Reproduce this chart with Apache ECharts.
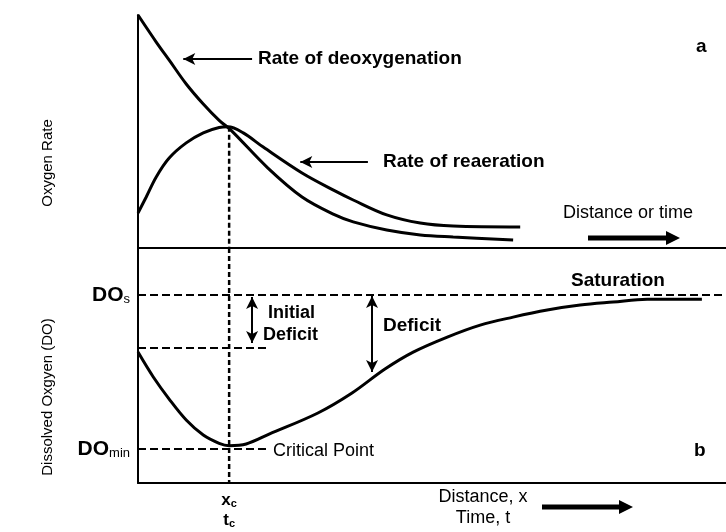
<!DOCTYPE html>
<html>
<head>
<meta charset="utf-8">
<script src="https://cdn.jsdelivr.net/npm/echarts@6/dist/echarts.min.js"></script>
<style>
  html, body { margin: 0; padding: 0; background: #fff; }
  #chart { width: 726px; height: 532px; }
</style>
</head>
<body>
<div id="chart"></div>
<script>
// panel a: oxygen rates along distance (x 0..100, y 0..100)
const deoxRate = [[0,100],[3.1,88.4],[5.4,80.3],[8.2,70.4],[11.1,61.8],[13.8,54.8],[15.8,50.6],[22.1,34.3],[27.9,21.9],[33.5,14.2],[36.6,11.2],[42.3,7.7],[48.0,5.6],[53.6,4.7],[63.8,3.4]];
const reaerRate = [[0,15.0],[1.4,21.9],[3.1,30.5],[5.3,38.6],[8.2,45.1],[11.1,49.4],[13.8,51.7],[15.3,52.0],[17.9,49.4],[21.3,43.3],[27.9,32.2],[33.5,24.5],[36.6,20.6],[42.3,14.2],[48.0,10.7],[53.6,9.4],[65.0,9.0]];
// panel b: dissolved oxygen sag curve
const doCurve = [[0,55.7],[2.6,45.1],[5.3,35.7],[8.2,26.8],[11.1,20.4],[13.8,16.9],[15.5,15.9],[18.4,16.6],[22.3,20.8],[30.6,29.8],[36.4,38.3],[42.0,48.5],[46.8,55.7],[52.6,62.1],[58.2,67.2],[63.8,70.6],[69.6,73.6],[75.2,75.7],[80.8,77.0],[86.6,78.2],[95.9,78.2]];
const xCrit = 15.5;
const doSat = 80;
const doInit = 57.4;
const doMin = 14.5;
const critPeak = 52;

const font = "'Liberation Sans', Arial, sans-serif";
const ink = '#000';

const chart = echarts.init(document.getElementById('chart'));

const hiddenAxis = {
  type: 'value', min: 0, max: 100,
  axisTick: { show: false }, axisLabel: { show: false }, splitLine: { show: false }
};
const solidAxisLine = { show: true, lineStyle: { color: ink, width: 2 } };

function arrow(from, to, both) {
  return [
    { coord: from, symbol: both ? 'arrow' : 'none' },
    { coord: to, symbol: 'arrow' }
  ];
}

function txt(text, x, y, opts) {
  return {
    type: 'text', x: x, y: y, rotation: (opts && opts.rotation) || 0, silent: true,
    style: {
      text: text, fill: ink,
      font: ((opts && opts.weight) || 'normal') + ' ' + ((opts && opts.size) || 18) + 'px ' + font,
      textAlign: (opts && opts.align) || 'left', textVerticalAlign: 'middle'
    }
  };
}

function bigArrow(x1, x2, y) {
  return [
    { type: 'line', silent: true, shape: { x1: x1, y1: y, x2: x2 - 12, y2: y }, style: { stroke: ink, lineWidth: 5 } },
    { type: 'polygon', silent: true, shape: { points: [[x2 - 14, y - 7], [x2, y], [x2 - 14, y + 7]] }, style: { fill: ink } }
  ];
}

chart.setOption({
  animation: false,
  grid: [
    { left: 138, right: 0, top: 15, height: 233 },
    { left: 138, right: 0, top: 248, height: 235 }
  ],
  xAxis: [
    Object.assign({}, hiddenAxis, { gridIndex: 0, position: 'top', axisLine: solidAxisLine }),
    Object.assign({}, hiddenAxis, { gridIndex: 0, position: 'bottom', axisLine: solidAxisLine }),
    Object.assign({}, hiddenAxis, {
      gridIndex: 1, position: 'bottom', axisLine: solidAxisLine,
      axisLabel: {
        show: true, customValues: [xCrit], margin: 6,
        formatter: () => '{b|x}{s|c}\n{b|t}{s|c}',
        rich: {
          b: { fontFamily: font, fontSize: 17, fontWeight: 'bold', color: ink, lineHeight: 20, verticalAlign: 'bottom' },
          s: { fontFamily: font, fontSize: 11, fontWeight: 'bold', color: ink, lineHeight: 20, verticalAlign: 'bottom' }
        }
      }
    })
  ],
  yAxis: [
    Object.assign({}, hiddenAxis, { gridIndex: 0, axisLine: solidAxisLine }),
    Object.assign({}, hiddenAxis, {
      gridIndex: 1, axisLine: solidAxisLine,
      axisLabel: {
        show: true, customValues: [doMin, doSat], margin: 8,
        formatter: v => v === doSat ? '{b|DO}{s|s}' : '{b|DO}{s|min}',
        rich: {
          b: { fontFamily: font, fontSize: 21, fontWeight: 'bold', color: ink, verticalAlign: 'bottom' },
          s: { fontFamily: font, fontSize: 13, color: ink, verticalAlign: 'bottom' }
        }
      }
    })
  ],
  series: [
    {
      name: 'Rate of deoxygenation', type: 'line', xAxisIndex: 0, yAxisIndex: 0,
      data: deoxRate, smooth: 0.35, showSymbol: false, silent: true,
      lineStyle: { color: ink, width: 3 },
      markLine: {
        silent: true, symbolSize: [9, 12], label: { show: false },
        lineStyle: { color: ink, width: 2, type: 'solid' },
        data: [
          arrow([19.4, 81.1], [7.7, 81.1]),
          arrow([39.1, 36.9], [27.6, 36.9])
        ]
      }
    },
    {
      name: 'Rate of reaeration', type: 'line', xAxisIndex: 0, yAxisIndex: 0,
      data: reaerRate, smooth: 0.35, showSymbol: false, silent: true,
      lineStyle: { color: ink, width: 3 }
    },
    {
      name: 'crit-a', type: 'line', xAxisIndex: 0, yAxisIndex: 0,
      data: [[xCrit, critPeak], [xCrit, 0]], showSymbol: false, silent: true,
      lineStyle: { color: ink, width: 2.5, type: [5, 3] }
    },
    {
      name: 'Dissolved Oxygen', type: 'line', xAxisIndex: 2, yAxisIndex: 1,
      data: doCurve, smooth: 0.35, showSymbol: false, silent: true,
      lineStyle: { color: ink, width: 3 },
      markLine: {
        silent: true, symbolSize: [9, 12], label: { show: false },
        lineStyle: { color: ink, width: 2, type: 'solid' },
        data: [
          arrow([19.4, 79.1], [19.4, 59.6], true),
          arrow([39.8, 79.6], [39.8, 47.2], true)
        ]
      }
    },
    {
      name: 'Saturation', type: 'line', xAxisIndex: 2, yAxisIndex: 1,
      data: [[0, doSat], [100, doSat]], showSymbol: false, silent: true,
      lineStyle: { color: ink, width: 2, type: [8, 4] }
    },
    {
      name: 'Initial', type: 'line', xAxisIndex: 2, yAxisIndex: 1,
      data: [[0, doInit], [21.9, doInit]], showSymbol: false, silent: true,
      lineStyle: { color: ink, width: 2, type: [8, 4] }
    },
    {
      name: 'Minimum', type: 'line', xAxisIndex: 2, yAxisIndex: 1,
      data: [[0, doMin], [22.4, doMin]], showSymbol: false, silent: true,
      lineStyle: { color: ink, width: 2, type: [8, 4] }
    },
    {
      name: 'crit-b', type: 'line', xAxisIndex: 2, yAxisIndex: 1,
      data: [[xCrit, 100], [xCrit, 0]], showSymbol: false, silent: true,
      lineStyle: { color: ink, width: 2.5, type: [5, 3] }
    }
  ],
  graphic: [
    txt('Rate of deoxygenation', 258, 59, { weight: 'bold', size: 19 }),
    txt('Rate of reaeration', 383, 162, { weight: 'bold', size: 19 }),
    txt('a', 696, 47, { weight: 'bold', size: 19 }),
    txt('Distance or time', 563, 213, { size: 18 }),
    txt('Saturation', 571, 281, { weight: 'bold', size: 19 }),
    txt('Initial', 268, 313, { weight: 'bold', size: 18 }),
    txt('Deficit', 263, 335, { weight: 'bold', size: 18 }),
    txt('Deficit', 383, 326, { weight: 'bold', size: 19 }),
    txt('Critical Point', 273, 451, { size: 18 }),
    txt('b', 694, 451, { weight: 'bold', size: 19 }),
    txt('Distance, x', 483, 497, { size: 18, align: 'center' }),
    txt('Time, t', 483, 518, { size: 18, align: 'center' }),
    txt('Oxygen Rate', 48, 163, { size: 15, align: 'center', rotation: Math.PI / 2 }),
    txt('Dissolved Oxgyen (DO)', 48, 397, { size: 15, align: 'center', rotation: Math.PI / 2 })
  ].concat(bigArrow(588, 680, 238), bigArrow(542, 633, 507))
});

window.addEventListener('resize', () => chart.resize());
</script>
</body>
</html>
